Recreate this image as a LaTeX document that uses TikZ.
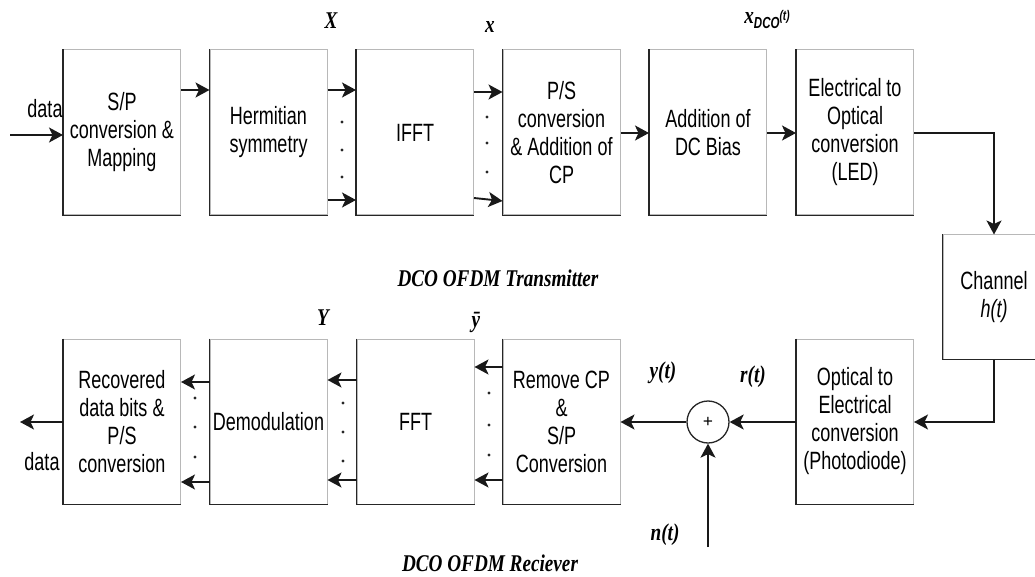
\documentclass[tikz,border=0pt]{standalone}
\usepackage{fontspec}
\setmainfont{Liberation Serif}
\newfontfamily\boxfont[FakeStretch=0.72]{Liberation Sans}
\newfontfamily\labfont[FakeStretch=0.8]{Liberation Serif}
\usetikzlibrary{arrows.meta}
\tikzset{
  blk/.style={draw=black!28, line width=1pt, minimum width=117pt, minimum height=165pt,
    align=center, inner sep=0pt, font=\boxfont\fontsize{25}{28}\selectfont},
  edgeline/.style={draw=black!85, line width=1.6pt},
  arr/.style={line width=1.9pt, draw=black!90, -{Stealth[length=14pt,width=15pt,inset=3.5pt]}},
  lab/.style={font=\labfont\bfseries\itshape\fontsize{24}{26}\selectfont, inner sep=0pt},
  dlab/.style={font=\boxfont\fontsize{25}{26}\selectfont, inner sep=0pt},
  dotmark/.style={fill=black!85}
}
\begin{document}
\begin{tikzpicture}[x=1pt,y=-1pt]
\useasboundingbox (0,0) rectangle (1035,577);
\clip (0,0) rectangle (1035,577);
% top row
\node[blk] (sp) at (122,132.5) {S/P\\conversion \&\\Mapping};
\node[blk] (hs) at (268.5,132.5) {Hermitian\\symmetry};
\node[blk] (ifft) at (415,132.5) {IFFT};
\node[blk] (ps) at (561.5,132.5) {P/S\\conversion\\\& Addition of\\CP};
\node[blk] (dc) at (708,132.5) {Addition of\\DC Bias};
\node[blk] (eo) at (855,132.5) {Electrical to\\Optical\\conversion\\(LED)};
\node[blk, minimum width=102pt, minimum height=124pt] (ch) at (994,297) {Channel\\{\itshape h(t)}};
% bottom row
\node[blk] (rec) at (122,421.5) {Recovered\\data bits \&\\P/S\\conversion};
\node[blk] (dem) at (268.5,421.5) {Demodulation};
\node[blk] (fft) at (415.5,421.5) {FFT};
\node[blk] (rcp) at (561.5,421.5) {Remove CP\\\&\\S/P\\Conversion};
\node[blk] (oe) at (855,421.5) {Optical to\\Electrical\\conversion\\(Photodiode)};
\node[circle, draw=black!85, line width=1.3pt, minimum size=42pt, inner sep=0pt,
  font=\bfseries\fontsize{18}{18}\selectfont] (sum) at (708,422) {+};
% darker left/bottom edges
\foreach \n in {sp,hs,ifft,ps,dc,eo,rec,dem,fft,rcp,oe,ch}
  \draw[edgeline] (\n.north west) |- (\n.south east);
% coordinates for free ends
\coordinate (din) at (10,135);
\coordinate (dout) at (20,422);
\coordinate (nin) at (708,547);
% top connectors
\draw[arr] (din) -- (sp.west |- din);
\draw[arr] (sp.east |- 0,90) -- (hs.west |- 0,90);
\draw[arr] (hs.east |- 0,90) -- (ifft.west |- 0,90);
\draw[arr] (hs.east |- 0,200) -- (ifft.west |- 0,200);
\draw[arr] (ifft.east |- 0,92) -- (ps.west |- 0,92);
\draw[arr] (ifft.east |- 0,198) -- (ps.west |- 0,201);
\draw[arr] (ps.east |- 0,133) -- (dc.west |- 0,133);
\draw[arr] (dc.east |- 0,133) -- (eo.west |- 0,133);
\draw[arr] (eo.east |- 0,133) -| (ch.north);
\draw[arr] (ch.south) |- (oe.east |- sum);
% bottom connectors
\draw[arr] (oe.west |- sum) -- (sum.east);
\draw[arr] (sum.west) -- (rcp.east |- sum);
\draw[arr] (nin) -- (sum.south);
\draw[arr] (rcp.west |- 0,367) -- (fft.east |- 0,367);
\draw[arr] (rcp.west |- 0,480) -- (fft.east |- 0,480);
\draw[arr] (fft.west |- 0,380) -- (dem.east |- 0,380);
\draw[arr] (fft.west |- 0,480) -- (dem.east |- 0,480);
\draw[arr] (dem.west |- 0,382) -- (rec.east |- 0,382);
\draw[arr] (dem.west |- 0,482) -- (rec.east |- 0,482);
\draw[arr] (rec.west |- dout) -- (dout);
% dots
\foreach \x/\y in {342/122,342/150,342/177, 487/117,487/143,487/172,
                   195/398,195/427,195/457, 343/403,343/432,343/461,
                   489/393,489/425,489/455}
  \fill[dotmark] (\x,\y) circle (1.7);
% labels
\node[dlab] (ldin) at (45,109) {data};
\node[dlab] (ldout) at (42,462) {data};
\node[lab] (lX) at (331,21) {X};
\node[lab] (lx) at (490,27) {x};
\node[lab] (lxd) at (767,20) {x\raisebox{-5pt}{\boxfont\itshape\fontsize{16}{16}\selectfont DCO}\raisebox{3pt}{\boxfont\itshape\fontsize{14}{14}\selectfont(t)}};
\node[lab] (ltx) at (498,278) {DCO OFDM Transmitter};
\node[lab] (lY) at (323,318) {Y};
\node[lab] (lyb) at (476,322) {\=y};
\node[lab] (lyt) at (663,373) {y(t)};
\node[lab] (lrt) at (753,377) {r(t)};
\node[lab] (lnt) at (665,535) {n(t)};
\node[lab] (lrx) at (490,563) {DCO OFDM Reciever};
\end{tikzpicture}
\end{document}
